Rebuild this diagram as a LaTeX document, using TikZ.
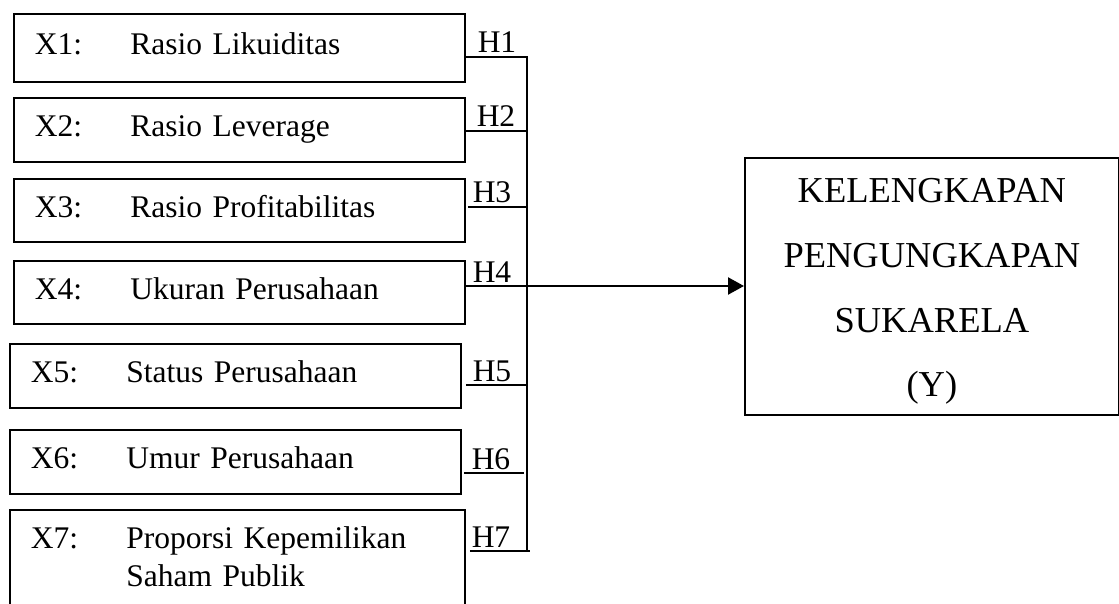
\documentclass[tikz,border=0pt]{standalone}
\usepackage{fontspec}
\setmainfont{Liberation Serif}
\usetikzlibrary{arrows.meta}
\tikzset{
  varbox/.style={draw,line width=1.8pt,anchor=north west,inner xsep=21pt,inner ysep=0pt,
    align=left,font=\fontsize{31.5}{38}\selectfont,text height=21.5pt,text depth=8pt},
  link/.style={line width=2.3pt},
  hlabel/.style={font=\fontsize{31.5}{38}\selectfont,inner sep=0pt,anchor=base}
}
\newcommand{\xlab}[1]{\makebox[95.5pt][l]{#1}}

\begin{document}
\begin{tikzpicture}[x=1pt,y=-1pt,>={Triangle[length=16pt,width=17pt]}]
\useasboundingbox (0,0) rectangle (1119,604);
\clip (0,0) rectangle (1119,604);
% variabel independen
\foreach \i/\x/\y/\h/\name in {1/13/13/68/Rasio Likuiditas,2/13/97/64/Rasio Leverage,
    3/13/178/63/Rasio Profitabilitas,4/13/260/63/Ukuran Perusahaan,
    5/9/343/64/Status Perusahaan,6/9/429/64/Umur Perusahaan}
{
    \node[varbox,text width=409pt,minimum height=\h] (x\i) at (\x,\y) {\xlab{X\i:}\name};
}
\node[varbox,text width=413pt,text depth=46pt,inner ysep=17.5pt] (x7) at (9,509)
    {\xlab{X7:}Proporsi Kepemilikan\\\xlab{}Saham Publik};
% variabel dependen
\node[draw,line width=1.8pt,anchor=north west,minimum width=374pt,minimum height=257pt,
    align=center,font=\fontsize{36.5}{64.7}\selectfont,text height=229pt,text depth=8pt]
    (dep) at (744,157) {KELENGKAPAN\\PENGUNGKAPAN\\SUKARELA\\(Y)};
% hipotesis
\foreach \i/\y in {1/57,2/131,3/207,4/286,5/385,6/473,7/551}
{
    \coordinate (h\i) at (527,\y);
}
\draw[link,line cap=rect] (h1) -- (h7);
\foreach \i/\gap/\over/\lx in {1/0/0/497,2/0/0/496,3/2/1/492,4/0/0/492,5/4/0/492,6/2/-3/491,7/4/3/491}
{
    \draw[link] ([xshift=\gap]x\i.east |- h\i) -- ([xshift=\over]h\i);
    \node[hlabel] (l\i) at ([shift={(\lx-527,-4)}]h\i) {H\i};
}
\draw[link,->] (h4) -- (dep.west |- h4);
\end{tikzpicture}
\end{document}
